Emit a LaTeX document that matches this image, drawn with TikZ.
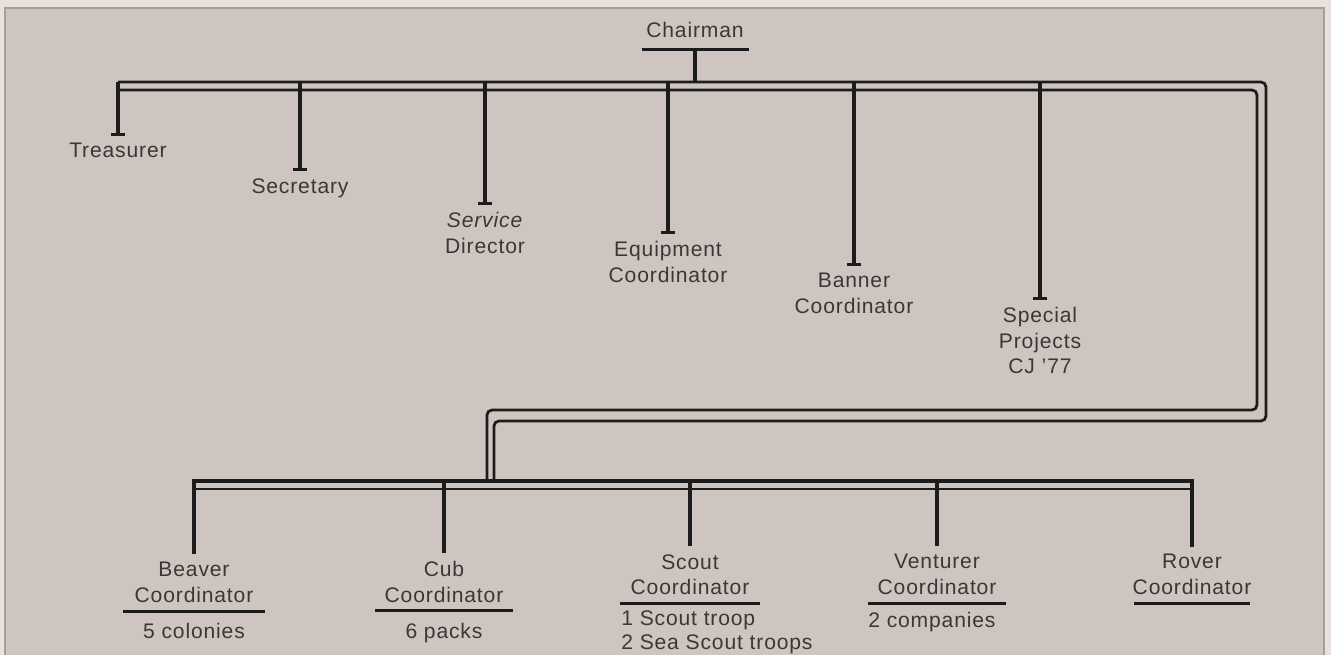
\documentclass[tikz,border=0pt]{standalone}
\usepackage{fontspec}
\setmainfont{Liberation Sans}[LetterSpace=4]
\usetikzlibrary{arrows.meta, positioning}

\definecolor{margin}{HTML}{E8E1DD}
\definecolor{paper}{HTML}{CEC5C1}
\definecolor{edge}{HTML}{A49E9B}
\definecolor{ink}{HTML}{1C1C1C}
\definecolor{print}{HTML}{3A3836}

\tikzstyle{role} = [inner sep=0pt, 
anchor=north, 
align=center, 
text=print, 
font=\fontsize{12}{14.6}\selectfont]
\tikzstyle{wire} = [draw=ink, line width=0.55mm]
\tikzstyle{post} = [draw=ink, line width=0.65mm, 
-{Bar[width=2.8mm]}, 
shorten >=1.4mm]
\tikzstyle{drop} = [draw=ink, line width=0.65mm, shorten >=1.6mm]
\tikzstyle{rule} = [draw=ink, line width=0.6mm]

\begin{document}
\begin{tikzpicture}[x=0.2mm, y=-0.2mm]
	\useasboundingbox (0,0) rectangle (1331,655);
	\fill[margin] (0,0) rectangle (1331,655);
	\filldraw[fill=paper, draw=edge, line width=0.3mm] (5,8) rectangle (1324,665);

	% committee
	\node (chair) [role] at (695,22) {Chairman};
	\node (treas) [role] at (118,143) {Treasurer};
	\node (secr) [role] at (300,178) {Secretary};
	\node (serv) [role] at (485,212) {\textit{Service}\\Director};
	\node (equip) [role] at (668,241) {Equipment\\Coordinator};
	\node (bann) [role] at (854,273) {Banner\\Coordinator};
	\node (spec) [role] at (1040,307) {Special\\Projects\\CJ '77};

	% sections
	\node (beav) [role] at (194,562) {Beaver\\Coordinator};
	\node (cub) [role] at (444,561) {Cub\\Coordinator};
	\node (scout) [role] at (690,554) {Scout\\Coordinator};
	\node (vent) [role] at (937,554) {Venturer\\Coordinator};
	\node (rover) [role] at (1192,554) {Rover\\Coordinator};
	\node (beavsub) [role, below=4mm of beav] {5 colonies};
	\node (cubsub) [role, below=4mm of cub] {6 packs};
	\node (scoutsub) [role, anchor=north west, align=left, font=\fontsize{12}{13.6}\selectfont] at ([shift={(-69,15)}]scout.south) {1 Scout troop\\2 Sea Scout troops};
	\node (ventsub) [role, anchor=north west, align=left] at ([shift={(-69,17)}]vent.south) {2 companies};
	\foreach \n/\w in {beav/71, cub/69, scout/70, vent/69, rover/58}
		\draw[rule] ([shift={(-\w,8)}]\n.south) -- ([shift={(\w,8)}]\n.south);

	% double lines
	\coordinate (topA) at (118,82);
	\coordinate (topB) at (118,90);
	\coordinate (eastA) at (1266,421);
	\coordinate (eastB) at (1257,410);
	\coordinate (westA) at (494,421);
	\coordinate (westB) at (487,410);
	\coordinate (busC) at (194,481);
	\coordinate (busD) at (194,489);
	\draw[wire, rounded corners=1mm] (treas |- topA) -| (eastA) -- (westA) -- (westA |- busC);
	\draw[wire, rounded corners=1mm] (treas |- topB) -| (eastB) -- (westB) -- (westB |- busC);
	\draw[wire, line width=0.65mm, shorten <=1.4mm, shorten >=1.6mm] (rover.north) |- (busC) -- (beav.north);
	\draw[wire] (busD) -- (rover.north |- busD);

	\draw[post, -{Bar[width=21.4mm]}, shorten >=2mm] (chair |- topA) -- (chair.south);
	\foreach \n in {treas, secr, serv, equip, bann, spec}
		\draw[post] (\n |- topA) -- (\n.north);
	\foreach \n in {cub, scout, vent}
		\draw[drop] (\n |- busC) -- (\n.north);
\end{tikzpicture}
\end{document}
